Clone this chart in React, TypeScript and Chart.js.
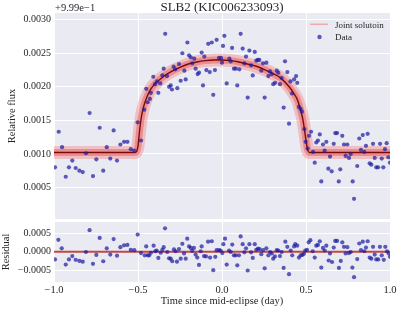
import React, { useEffect, useRef } from "react";
import { Chart, registerables } from "chart.js";

Chart.register(...registerables);

const FONT = '"Liberation Serif", "DejaVu Serif", serif';
const TEXT = "#262626";

// ---- data (flux shown relative to offset +9.99e-1) ----
const TITLE = "SLB2 (KIC006233093)";
const OFFSET_TEXT = "+9.99e\u22121";
const X_TITLE = "Time since mid-eclipse (day)";
const Y_TITLE = "Relative flux";
const RES_TITLE = "Residual";
const LEGEND_MODEL = "Joint solutoin";
const LEGEND_DATA = "Data";

const xTicks = [-1.0, -0.5, 0.0, 0.5, 1.0];
const yTicks = [0.0005, 0.001, 0.0015, 0.002, 0.0025, 0.003];
const resTicks = [-0.0005, 0.0, 0.0005];

const dataTime = [
  -0.994, -0.972, -0.952, -0.93, -0.911, -0.891, -0.871, -0.849, -0.829, -0.81,
  -0.788, -0.768, -0.748, -0.728, -0.707, -0.686, -0.665, -0.645, -0.625, -0.605,
  -0.583, -0.563, -0.543, -0.523, -0.502, -0.482, -0.463, -0.451, -0.442, -0.429,
  -0.423, -0.409, -0.399, -0.387, -0.379, -0.367, -0.355, -0.347, -0.338, -0.327,
  -0.315, -0.305, -0.298, -0.288, -0.278, -0.266, -0.256, -0.246, -0.236, -0.224,
  -0.216, -0.206, -0.196, -0.186, -0.177, -0.165, -0.157, -0.145, -0.137, -0.121,
  -0.113, -0.105, -0.093, -0.082, -0.073, -0.061, -0.052, -0.042, -0.032, -0.018,
  -0.006, 0.0, 0.006, 0.014, 0.028, 0.044, 0.052, 0.06, 0.071, 0.082,
  0.091, 0.103, 0.111, 0.123, 0.133, 0.143, 0.153, 0.163, 0.173, 0.183,
  0.195, 0.204, 0.213, 0.222, 0.234, 0.244, 0.254, 0.264, 0.276, 0.286,
  0.296, 0.305, 0.316, 0.326, 0.335, 0.345, 0.355, 0.367, 0.375, 0.389,
  0.399, 0.407, 0.417, 0.429, 0.441, 0.448, 0.458, 0.468, 0.476, 0.49,
  0.498, 0.51, 0.518, 0.53, 0.542, 0.552, 0.561, 0.571, 0.582, 0.591,
  0.601, 0.611, 0.621, 0.633, 0.643, 0.653, 0.665, 0.674, 0.685, 0.695,
  0.704, 0.716, 0.726, 0.736, 0.746, 0.756, 0.766, 0.778, 0.786, 0.805,
  0.817, 0.827, 0.838, 0.847, 0.857, 0.867, 0.879, 0.889, 0.899, 0.909,
  0.918, 0.929, 0.941, 0.951, 0.96, 0.97, 0.98, 0.99, 1.0,
];
const dataFlux = [
  0.0008, 0.00133, 0.0011, 0.00066, 0.0008, 0.0009, 0.00079, 0.00075, 0.00073, 0.00101,
  0.00161, 0.00067, 0.00092, 0.00139, 0.00075, 0.0011, 0.00093, 0.00135, 0.0009, 0.00114,
  0.00118, 0.00118, 0.00107, 0.00105, 0.00147, 0.0012, 0.00166, 0.00197, 0.00177, 0.00182,
  0.00191, 0.00215, 0.00204, 0.00208, 0.00191, 0.00205, 0.00217, 0.00227, 0.00279, 0.00216,
  0.002, 0.00202, 0.00196, 0.0023, 0.00226, 0.00198, 0.00234, 0.00209, 0.0025, 0.00224,
  0.00211, 0.00266, 0.00247, 0.00244, 0.00235, 0.00242, 0.00227, 0.00219, 0.00221, 0.00251,
  0.00202, 0.00245, 0.00225, 0.00264, 0.00222, 0.00266, 0.00188, 0.00225, 0.0027, 0.00243,
  0.00243, 0.00236, 0.00261, 0.00276, 0.00205, 0.00242, 0.00238, 0.00258, 0.00227, 0.00227,
  0.00202, 0.00226, 0.00279, 0.00257, 0.00235, 0.00245, 0.00184, 0.00254, 0.00232, 0.00217,
  0.00252, 0.00239, 0.0024, 0.0024, 0.00224, 0.00235, 0.00184, 0.00236, 0.00216, 0.00223,
  0.00219, 0.00204, 0.00206, 0.00224, 0.00221, 0.00204, 0.00213, 0.00169, 0.00238, 0.00222,
  0.00145, 0.00208, 0.0019, 0.00211, 0.00216, 0.00206, 0.0017, 0.00167, 0.00163, 0.00137,
  0.00118, 0.00108, 0.00127, 0.00133, 0.00103, 0.00087, 0.00117, 0.0012, 0.00129, 0.00059,
  0.00114, 0.00105, 0.00118, 0.00078, 0.00096, 0.00074, 0.00115, 0.00131, 0.00131, 0.00059,
  0.00077, 0.00127, 0.00114, 0.00097, 0.00114, 0.00094, 0.001, 0.00059, 0.00033, 0.00082,
  0.00123, 0.00106, 0.00128, 0.00103, 0.00112, 0.0013, 0.00086, 0.00084, 0.00115, 0.00094,
  0.0008, 0.0008, 0.00115, 0.00093, 0.0008, 0.00107, 0.00116, 0.00095, 0.00087,
];

const modelTime = [
  -1.0, -0.52, -0.51, -0.5, -0.49, -0.48, -0.47, -0.46, -0.44, -0.42, -0.4, -0.35,
  -0.3, -0.25, -0.2, -0.15, -0.1, -0.05, 0.0, 0.05, 0.1, 0.15, 0.2, 0.25, 0.3,
  0.35, 0.4, 0.43, 0.45, 0.47, 0.48, 0.49, 0.5, 0.51, 0.52, 1.0,
];
const modelFlux = [
  0.00102, 0.00102, 0.00103, 0.00112, 0.00136, 0.00155, 0.00167, 0.00176, 0.00189, 0.00198, 0.00204, 0.00215,
  0.00223, 0.00229, 0.00234, 0.00237, 0.00239, 0.0024, 0.0024, 0.00239, 0.00237, 0.00234, 0.00231, 0.00226, 0.0022,
  0.00213, 0.002, 0.00189, 0.0018, 0.00163, 0.00153, 0.00138, 0.0012, 0.00106, 0.00102, 0.00102,
];

const resTime = [
  -0.994, -0.974, -0.954, -0.93, -0.911, -0.891, -0.871, -0.849, -0.829, -0.81,
  -0.788, -0.768, -0.748, -0.728, -0.707, -0.686, -0.665, -0.645, -0.625, -0.605,
  -0.583, -0.563, -0.543, -0.522, -0.502, -0.482, -0.46, -0.451, -0.442, -0.433,
  -0.423, -0.407, -0.397, -0.389, -0.379, -0.365, -0.355, -0.347, -0.339, -0.326,
  -0.315, -0.305, -0.296, -0.286, -0.276, -0.268, -0.256, -0.246, -0.236, -0.226,
  -0.216, -0.207, -0.196, -0.186, -0.177, -0.167, -0.157, -0.147, -0.137, -0.127,
  -0.121, -0.107, -0.095, -0.083, -0.071, -0.061, -0.052, -0.04, -0.032, -0.018,
  -0.008, 0.002, 0.008, 0.018, 0.028, 0.042, 0.052, 0.061, 0.071, 0.082,
  0.091, 0.101, 0.111, 0.123, 0.133, 0.143, 0.153, 0.163, 0.173, 0.183,
  0.195, 0.204, 0.214, 0.224, 0.234, 0.244, 0.254, 0.264, 0.276, 0.286,
  0.296, 0.305, 0.315, 0.326, 0.335, 0.345, 0.355, 0.367, 0.377, 0.389,
  0.399, 0.409, 0.418, 0.429, 0.436, 0.448, 0.458, 0.468, 0.478, 0.488,
  0.496, 0.506, 0.516, 0.526, 0.54, 0.552, 0.561, 0.571, 0.582, 0.591,
  0.601, 0.611, 0.621, 0.635, 0.643, 0.655, 0.665, 0.674, 0.685, 0.696,
  0.707, 0.716, 0.726, 0.736, 0.746, 0.756, 0.766, 0.776, 0.786, 0.805,
  0.817, 0.827, 0.838, 0.847, 0.857, 0.867, 0.879, 0.889, 0.899, 0.909,
  0.918, 0.93, 0.94, 0.951, 0.963, 0.972, 0.982, 0.992, 1.0,
];
const resValue = [
  -0.00021, 0.00032, 0.00009, -0.00035, -0.00021, -0.00012, -0.00022, -0.00025, -0.00027, -0.00001,
  0.00058, -0.00033, -0.00009, 0.00037, -0.00026, 0.00009, -0.00008, 0.00034, -0.00011, 0.00012,
  0.00017, 0.00018, 0.00005, 0.00004, 0.00046, -0.00004, -0.0001, 0.00014, -0.0001, -0.0001,
  -0.00003, 0.00016, 0.00001, 0.00003, -0.00017, -0.00003, 0.00005, 0.00012, 0.00063, -0.00001,
  -0.00018, -0.00019, -0.00026, 0.00006, 0.00001, -0.00027, 0.00007, -0.00019, 0.00021, -0.00005,
  -0.00019, 0.00035, 0.00014, 0.0001, 0.00002, 0.0001, -0.00008, -0.00016, -0.00036, 0.00001,
  0.00014, -0.00012, -0.00013, 0.00027, -0.00016, 0.00028, -0.0005, -0.00014, 0.00004, 0.00004,
  0.00003, -0.00004, 0.0002, 0.00035, -0.00035, 0.00003, -0.00001, 0.00019, -0.0001, -0.0001,
  -0.00037, -0.0001, 0.00041, 0.0002, -0.00002, 0.00009, -0.00051, 0.0002, -0.00002, -0.00017,
  0.0002, 0.00005, 0.00008, 0.00007, -0.00007, 0.00004, -0.00045, 0.00009, -0.0001, -0.00001,
  -0.00005, -0.00019, -0.00013, 0.00004, 0.00003, -0.00012, -0.00001, -0.00044, 0.00027, 0.00013,
  -0.00061, 0.00003, -0.0001, 0.00014, 0.0002, 0.00016, -0.00016, -0.0001, -0.00009, -0.00006,
  0.00003, 0.00005, 0.00025, 0.00031, 0.00001, -0.00016, 0.00016, 0.00018, 0.00028, -0.00043,
  0.0001, 0.00003, 0.00016, -0.00024, -0.00005, -0.00028, 0.00011, 0.00029, 0.00029, -0.00044,
  -0.00025, 0.00025, 0.00013, -0.00005, 0.00012, -0.00004, -0.00001, -0.00043, -0.00069, -0.0002,
  0.00022, 0.00004, 0.00027, 0.00001, 0.00011, 0.00028, -0.00016, -0.00019, 0.00013, -0.00008,
  -0.00021, -0.00021, 0.00013, -0.0001, -0.00022, 0.00013, 0.00001, -0.00005, -0.00014,
];

const resModelTime = [-1.0, 1.0];
const resModelValue = [0.0, 0.0];

// ---- styling ----
const BG = "#EAEAF2";
const DOT = "rgba(25,25,160,0.7)";
const MODEL_DARK = "#7a0a0a";
const BAND_INNER = "rgba(232,92,92,0.5)";
const BAND_OUTER = "rgba(243,132,132,0.42)";
const LEGEND_LINE = "rgba(240,128,128,0.6)";

const pts = (xs: number[], ys: number[]) => xs.map((x, i) => ({ x, y: ys[i] }));
const fmt = (v: number, d: number) => Number(v).toFixed(d).replace("-", "\u2212");

const bgPlugin = {
  id: "bgPlugin",
  beforeDraw(chart: any) {
    const { ctx, chartArea } = chart;
    ctx.save();
    ctx.fillStyle = BG;
    ctx.fillRect(chartArea.left, chartArea.top, chartArea.right - chartArea.left, chartArea.bottom - chartArea.top);
    ctx.restore();
  },
};

const textPlugin = {
  id: "textPlugin",
  afterDraw(chart: any) {
    const { ctx, chartArea } = chart;
    ctx.save();
    ctx.fillStyle = TEXT;
    ctx.textBaseline = "alphabetic";
    ctx.font = `10.5px ${FONT}`;
    ctx.textAlign = "left";
    ctx.fillText(OFFSET_TEXT, chartArea.left + 1, 11);
    ctx.font = `13px ${FONT}`;
    ctx.textAlign = "center";
    ctx.fillText(TITLE, (chartArea.left + chartArea.right) / 2, 10.5);
    const lx = 310;
    ctx.strokeStyle = LEGEND_LINE;
    ctx.lineWidth = 1.5;
    ctx.beginPath();
    ctx.moveTo(lx, 24.3);
    ctx.lineTo(lx + 18, 24.3);
    ctx.stroke();
    ctx.fillStyle = DOT;
    ctx.beginPath();
    ctx.arc(lx + 9.5, 37, 2.2, 0, Math.PI * 2);
    ctx.fill();
    ctx.fillStyle = TEXT;
    ctx.font = `9px ${FONT}`;
    ctx.textAlign = "left";
    ctx.fillText(LEGEND_MODEL, 335, 27.5);
    ctx.fillText(LEGEND_DATA, 335, 40.3);
    ctx.restore();
  },
};

const fitY = (s: any) => {
  s.width = 54;
  s.paddingTop = 0;
  s.paddingBottom = 0;
};

export default function App() {
  const mainRef = useRef<HTMLCanvasElement>(null);
  const resRef = useRef<HTMLCanvasElement>(null);

  useEffect(() => {
    Chart.defaults.font.family = FONT;
    Chart.defaults.color = TEXT;

    const model = pts(modelTime, modelFlux);
    const xScaleBase = {
      type: "linear" as const,
      min: -1,
      max: 1,
      afterBuildTicks: (s: any) => {
        s.ticks = xTicks.map((v) => ({ value: v }));
      },
      border: { display: false },
      grid: { color: "#ffffff", lineWidth: 1, drawTicks: false },
    };

    const main = new Chart(mainRef.current!, {
      type: "scatter",
      data: {
        datasets: [
          { data: pts(dataTime, dataFlux), backgroundColor: DOT, borderWidth: 0, pointRadius: 2.1, order: 0 },
          {
            data: model, showLine: true, borderColor: MODEL_DARK, borderWidth: 1.4, pointRadius: 0,
            cubicInterpolationMode: "monotone", order: 1, clip: 0,
          },
          {
            data: model, showLine: true, borderColor: BAND_INNER, borderWidth: 7, pointRadius: 0,
            cubicInterpolationMode: "monotone", borderJoinStyle: "round", order: 2, clip: 0,
          },
          {
            data: model, showLine: true, borderColor: BAND_OUTER, borderWidth: 13, pointRadius: 0,
            cubicInterpolationMode: "monotone", borderJoinStyle: "round", order: 3, clip: 0,
          },
        ] as any,
      },
      options: {
        responsive: false,
        animation: false,
        devicePixelRatio: 1,
        layout: { padding: { top: 13, right: 9, bottom: 0, left: 0 } },
        plugins: { legend: { display: false }, tooltip: { enabled: false } },
        scales: {
          x: {
            ...xScaleBase,
            ticks: { display: false },
            afterFit: (s: any) => {
              s.height = 0;
              s.paddingLeft = 0;
              s.paddingRight = 0;
            },
          },
          y: {
            type: "linear",
            min: 0.00003,
            max: 0.0031,
            afterBuildTicks: (s: any) => {
              s.ticks = yTicks.map((v) => ({ value: v }));
            },
            afterFit: fitY,
            border: { display: false },
            grid: { color: "#ffffff", lineWidth: 1, drawTicks: false },
            ticks: { padding: 3, font: { size: 10, family: FONT }, color: TEXT, callback: (v: any) => fmt(v, 4) },
            title: {
              display: true, text: Y_TITLE, font: { size: 10.5, family: FONT }, color: TEXT,
              padding: { top: 5.5, bottom: 0 },
            },
          },
        },
      } as any,
      plugins: [bgPlugin, textPlugin],
    });

    const res = new Chart(resRef.current!, {
      type: "scatter",
      data: {
        datasets: [
          { data: pts(resTime, resValue), backgroundColor: DOT, borderWidth: 0, pointRadius: 2.1, order: 0 },
          {
            data: pts(resModelTime, resModelValue), showLine: true, borderColor: "rgba(190,62,58,0.95)",
            borderWidth: 2, pointRadius: 0, order: 1, clip: 0,
          },
        ] as any,
      },
      options: {
        responsive: false,
        animation: false,
        devicePixelRatio: 1,
        layout: { padding: { top: 5, right: 9, bottom: 0, left: 0 } },
        plugins: { legend: { display: false }, tooltip: { enabled: false } },
        scales: {
          x: {
            ...xScaleBase,
            ticks: {
              padding: 2, font: { size: 10.5, family: FONT }, color: TEXT, maxRotation: 0,
              callback: (v: any) => fmt(v, 1),
            },
            afterFit: (s: any) => {
              s.height = 28;
              s.paddingLeft = 0;
              s.paddingRight = 0;
            },
            title: {
              display: true, text: X_TITLE, font: { size: 10.5, family: FONT }, color: TEXT,
              padding: { top: 0, bottom: 2 },
            },
          },
          y: {
            type: "linear",
            min: -0.00082,
            max: 0.0008,
            afterBuildTicks: (s: any) => {
              s.ticks = resTicks.map((v) => ({ value: v }));
            },
            afterFit: fitY,
            border: { display: false },
            grid: { color: "#ffffff", lineWidth: 1, drawTicks: false },
            ticks: { padding: 3, font: { size: 10, family: FONT }, color: TEXT, callback: (v: any) => fmt(v, 4) },
            title: {
              display: true, text: RES_TITLE, font: { size: 10.5, family: FONT }, color: TEXT,
              padding: { top: 0, bottom: 0 },
            },
          },
        },
      } as any,
      plugins: [bgPlugin],
    });

    return () => {
      main.destroy();
      res.destroy();
    };
  }, []);

  return (
    <div style={{ position: "absolute", left: 0, top: 0, width: 399, height: 310, background: "#ffffff" }}>
      <canvas ref={mainRef} width={399} height={223} style={{ position: "absolute", left: 0, top: 0, display: "block" }} />
      <canvas ref={resRef} width={399} height={93} style={{ position: "absolute", left: 0, top: 217, display: "block" }} />
    </div>
  );
}
